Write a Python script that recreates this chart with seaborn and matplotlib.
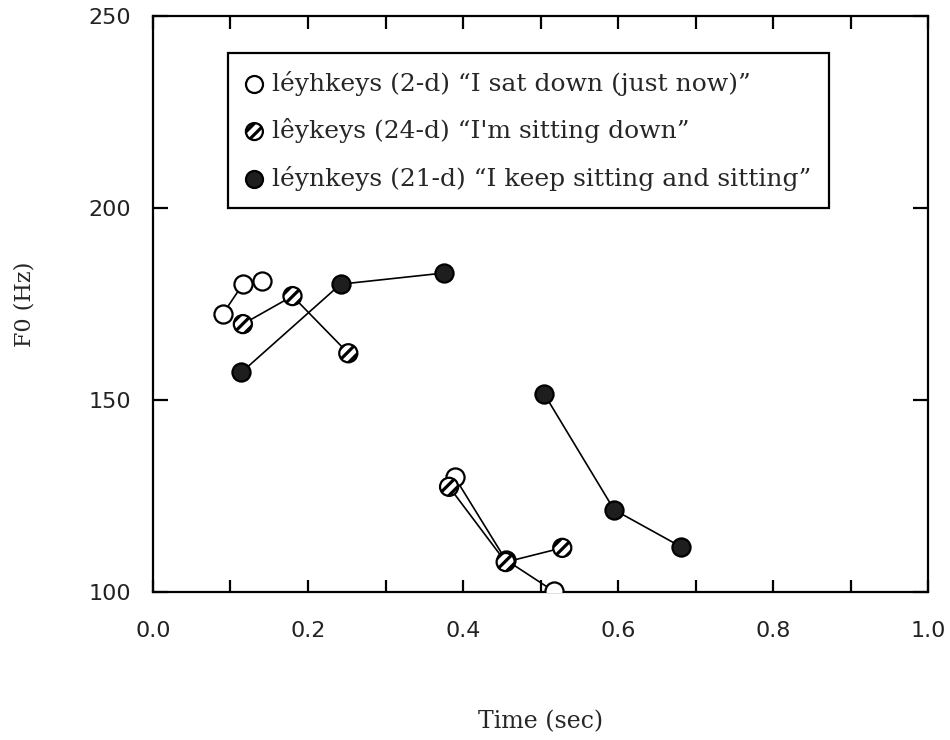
import matplotlib
matplotlib.use("Agg")
import matplotlib.pyplot as plt
import numpy as np
import pandas as pd
import seaborn as sns

# F0 contours (time in sec, F0 in Hz); each form has two syllable segments
open_time = [0.090, 0.116, 0.141, 0.389, 0.455, 0.517]
open_f0 = [172.4, 180.2, 181.0, 130.0, 108.4, 100.2]
open_seg = [1, 1, 1, 2, 2, 2]

hatch_time = [0.116, 0.180, 0.252, 0.382, 0.455, 0.528]
hatch_f0 = [169.8, 177.1, 162.2, 127.4, 107.8, 111.5]
hatch_seg = [1, 1, 1, 2, 2, 2]

filled_time = [0.114, 0.242, 0.375, 0.505, 0.595, 0.681]
filled_f0 = [157.2, 180.2, 183.1, 151.5, 121.4, 111.8]
filled_seg = [1, 1, 1, 2, 2, 2]

labels = [
    "léyhkeys (2-d) \u201cI sat down (just now)\u201d",
    "lêykeys (24-d) \u201cI'm sitting down\u201d",
    "léynkeys (21-d) \u201cI keep sitting and sitting\u201d",
]

x_ticks = [0.0, 0.2, 0.4, 0.6, 0.8, 1.0]
y_ticks = [100, 150, 200, 250]

frames = []
for lab, t, f, s in zip(labels,
                        [open_time, hatch_time, filled_time],
                        [open_f0, hatch_f0, filled_f0],
                        [open_seg, hatch_seg, filled_seg]):
    frames.append(pd.DataFrame({"time": t, "f0": f, "seg": s, "form": lab}))
df = pd.concat(frames, ignore_index=True)

sns.set_theme(style="white")
plt.rcParams["font.family"] = ["DejaVu Sans"]
plt.rcParams["hatch.linewidth"] = 2.3

SERIF = "DejaVu Serif"

fig = plt.figure(figsize=(9.5, 7.4), dpi=100)
ax = fig.add_axes([0.161, 0.2, 0.816, 0.778])

styles = {
    labels[0]: dict(facecolor="white", hatch=None),
    labels[1]: dict(facecolor="white", hatch="///"),
    labels[2]: dict(facecolor="#1e1e1e", hatch=None),
}

# connecting lines per segment
for lab in labels:
    sub = df[df["form"] == lab]
    for seg, part in sub.groupby("seg"):
        sns.lineplot(data=part, x="time", y="f0", sort=False, estimator=None,
                     color="black", linewidth=1.2, ax=ax, legend=False, zorder=2)

handles = []
for lab in labels:
    sub = df[df["form"] == lab]
    st = styles[lab]
    kw = dict(s=170, facecolor=st["facecolor"], edgecolor="black",
              linewidth=1.6, zorder=3, legend=False)
    if st["hatch"]:
        kw["hatch"] = st["hatch"]
    sns.scatterplot(data=sub, x="time", y="f0", ax=ax, **kw)
    # legend proxy with the same marker style
    proxy = ax.scatter([], [], s=150, facecolor=st["facecolor"], edgecolor="black",
                       linewidth=1.6, hatch=st["hatch"])
    handles.append(proxy)

ax.set_xlim(0.0, 1.0)
ax.set_ylim(100, 250)
ax.set_xticks(x_ticks)
ax.set_xticklabels([f"{v:.1f}" for v in x_ticks])
ax.set_xticks(np.arange(0.1, 1.0, 0.1), minor=True)
ax.set_yticks(y_ticks)
ax.set_yticklabels([str(v) for v in y_ticks])

for sp in ax.spines.values():
    sp.set_visible(True)
    sp.set_color("black")
    sp.set_linewidth(1.6)

ax.tick_params(axis="both", which="both", direction="in", top=True, right=True,
               bottom=True, left=True, color="black", width=1.6)
ax.tick_params(axis="y", which="major", length=11, pad=16, labelsize=16,
               labelcolor="#222222")
ax.tick_params(axis="x", which="major", length=9, pad=21, labelsize=16,
               labelcolor="#222222")
ax.tick_params(axis="x", which="minor", length=9)

ax.set_xlabel("Time (sec)", fontfamily=SERIF, fontsize=17, labelpad=50)
ax.set_ylabel("F0 (Hz)", fontfamily=SERIF, fontsize=16, labelpad=38)

leg = ax.legend(handles, labels, loc="upper left", bbox_to_anchor=(0.097, 0.936),
                frameon=True, fancybox=False, edgecolor="black", framealpha=1,
                handlelength=0.7, handletextpad=0.35, borderpad=0.7, labelspacing=0.9,
                borderaxespad=0, scatterpoints=1,
                prop={"family": SERIF, "size": 18})
leg.get_frame().set_linewidth(1.6)

fig.savefig("out.png", dpi=100)
